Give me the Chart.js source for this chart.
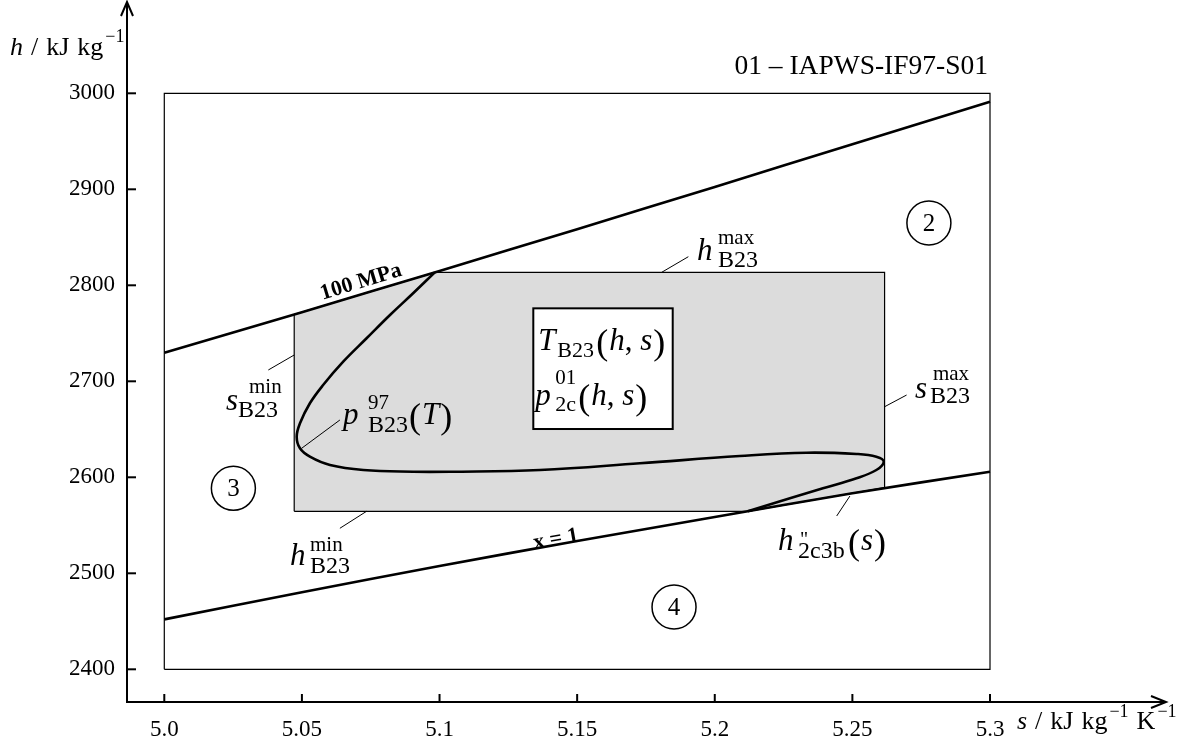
<!DOCTYPE html>
<html><head><meta charset="utf-8">
<script src="https://cdn.jsdelivr.net/npm/chart.js@4.4.1/dist/chart.umd.min.js"></script>
<style>html,body{margin:0;padding:0;background:#fff;}canvas{display:block;}</style>
</head><body>
<canvas id="c" width="1197" height="748"></canvas>
<script>
// ---- data ----
const xTickValues = [5.0, 5.05, 5.1, 5.15, 5.2, 5.25, 5.3];
const xTickLabels = ['5.0', '5.05', '5.1', '5.15', '5.2', '5.25', '5.3'];
const yTickValues = [2400, 2500, 2600, 2700, 2800, 2900, 3000];
const yTickLabels = ['2400', '2500', '2600', '2700', '2800', '2900', '3000'];
const frameS = [5.0, 5.3, 5.3, 5.0, 5.0];
const frameH = [2400, 2400, 3000, 3000, 2400];
const isobarS = [5.0, 5.05, 5.1, 5.15, 5.2, 5.25, 5.3];           // 100 MPa
const isobarH = [2729.8, 2772, 2815, 2858.5, 2902.5, 2947, 2991.3];
const satS = [5.0, 5.05, 5.1, 5.15, 5.2, 5.25, 5.3];               // x = 1
const satH = [2452, 2480.2, 2507.6, 2533.7, 2558.6, 2583.4, 2605.8];
const regionS = [5.0472, 5.0472, 5.0983, 5.2617, 5.2617, 5.2120, 5.0472];
const regionH = [2564.6, 2769.6, 2813.5, 2813.5, 2589.3, 2564.6, 2564.6];
const b23S = [5.0983,5.0904,5.0820,5.0735,5.0650,5.0577,5.0529,5.0493,5.0481,5.0493,5.0529,5.0602,5.0723,5.0904,5.1038,5.1365,5.1728,5.2091,5.2333,5.2515,5.2587,5.2614,5.2587,5.2515,5.2393,5.2273,5.2120];
const b23H = [2813.5,2791.7,2769.1,2744.8,2720.4,2696.1,2677.1,2656.3,2642.3,2630.2,2621.5,2612.8,2607.6,2605.8,2605.8,2607.6,2614.6,2622.2,2625.6,2624.3,2621.5,2616.3,2607.6,2599.0,2588.5,2578.1,2564.6];
const leaderS = [5.1807, 5.1904, null, 5.0472, 5.0378, null, 5.2617, 5.2697, null, 5.0735, 5.0638, null, 5.0499, 5.0638, null, 5.2491, 5.2443];
const leaderH = [2813.5, 2829.8, null, 2727.4, 2711.8, null, 2673.5, 2685.7, null, 2564.6, 2546.9, null, 2630.2, 2659.7, null, 2580.5, 2559.7];
const regionLabels = ['2', '3', '4'];
const regionLabelS = [5.2778, 5.0251, 5.1852];
const regionLabelH = [2864.9, 2588.5, 2464.9];

// ---- helpers ----
const SERIF = '"Liberation Serif", "Times New Roman", serif';
const F = (size, style) => (style ? style + ' ' : '') + size + 'px ' + SERIF;
const pts = (S, H) => S.map((s, i) => ({x: s, y: H[i] === null ? null : H[i]}));

function put(ctx, t, x, y, font, align) {
  ctx.font = font; ctx.textAlign = align || 'left'; ctx.textBaseline = 'alphabetic';
  ctx.fillText(t, x, y);
  return x + ctx.measureText(t).width;
}
function paren(ctx, x, y, inner) {
  let cx = put(ctx, '(', x, y + 4, F(36));
  cx += 1;
  for (const [t, f] of inner) cx = put(ctx, t, cx, y, f);
  cx += 1;
  return put(ctx, ')', cx, y + 4, F(36));
}

const annot = {
  id: 'annot',
  afterDatasetsDraw(chart) {
    const ctx = chart.ctx, xs = chart.scales.x, ys = chart.scales.y;
    const P = (s, h) => [xs.getPixelForValue(s), ys.getPixelForValue(h)];
    ctx.save();
    ctx.fillStyle = '#000';
    // formula box
    const [bx1, by1] = P(5.13407, 2776.0), [bx2, by2] = P(5.18472, 2650.3);
    ctx.fillStyle = '#fff'; ctx.fillRect(bx1, by1, bx2 - bx1, by2 - by1);
    ctx.strokeStyle = '#000'; ctx.lineWidth = 2; ctx.strokeRect(bx1, by1, bx2 - bx1, by2 - by1);
    ctx.fillStyle = '#000';
    const I = F(31, 'italic'), R = F(31), SUP = F(21), SUB = F(24);
    let a = P(5.13589, 2732.6);
    put(ctx, 'T', a[0], a[1], I);
    put(ctx, 'B23', a[0] + 19, a[1] + 7, F(22));
    paren(ctx, a[0] + 58, a[1], [['h', I], [', ', R], ['s', I]]);
    a = P(5.13480, 2675.3);
    put(ctx, 'p', a[0], a[1], I);
    put(ctx, '01', a[0] + 20, a[1] - 21, SUP);
    put(ctx, '2c', a[0] + 20, a[1] + 6, F(22));
    paren(ctx, a[0] + 43, a[1], [['h', I], [', ', R], ['s', I]]);

    // h max
    a = P(5.19355, 2826.3);
    put(ctx, 'h', a[0], a[1], I);
    put(ctx, 'max', a[0] + 21, a[1] - 16, SUP);
    put(ctx, 'B23', a[0] + 21, a[1] + 7, SUB);
    // s min
    a = P(5.02242, 2670.1);
    put(ctx, 's', a[0], a[1], I);
    put(ctx, 'min', a[0] + 23, a[1] - 17, SUP);
    put(ctx, 'B23', a[0] + 12, a[1] + 7, SUB);
    // s max
    a = P(5.27273, 2682.6);
    put(ctx, 's', a[0], a[1], I);
    put(ctx, 'max', a[0] + 18, a[1] - 18, SUP);
    put(ctx, 'B23', a[0] + 15, a[1] + 5, SUB);
    // h min
    a = P(5.04567, 2508.6);
    put(ctx, 'h', a[0], a[1], I);
    put(ctx, 'min', a[0] + 20, a[1] - 14, SUP);
    put(ctx, 'B23', a[0] + 20, a[1] + 8, SUB);
    // p97 B23 (T)
    a = P(5.06493, 2655.5);
    put(ctx, 'p', a[0], a[1], I);
    put(ctx, '97', a[0] + 25, a[1] - 15, SUP);
    put(ctx, 'B23', a[0] + 25, a[1] + 8, SUB);
    paren(ctx, a[0] + 66, a[1], [['T', I]]);
    // h'' 2c3b (s)
    a = P(5.22297, 2524.3);
    put(ctx, 'h', a[0], a[1], I);
    put(ctx, '"', a[0] + 22, a[1] - 4, F(20));
    put(ctx, '2c3b', a[0] + 20, a[1] + 8, SUB);
    paren(ctx, a[0] + 70, a[1], [['s', I]]);

    // region circle numbers
    regionLabels.forEach((t, i) => {
      const p = P(regionLabelS[i], regionLabelH[i]);
      ctx.font = F(25); ctx.textAlign = 'center'; ctx.textBaseline = 'middle';
      ctx.fillText(t, p[0], p[1] + 1);
    });

    // rotated line labels
    const ang1 = Math.atan2(ys.getPixelForValue(2991.3) - ys.getPixelForValue(2729.8), xs.getPixelForValue(5.3) - xs.getPixelForValue(5.0));
    a = P(5.07147, 2803.4);
    ctx.save(); ctx.translate(a[0], a[1]); ctx.rotate(ang1);
    ctx.font = F(22, 'bold'); ctx.textAlign = 'center'; ctx.textBaseline = 'middle';
    ctx.fillText('100 MPa', 0, 0); ctx.restore();
    const ang2 = Math.atan2(ys.getPixelForValue(2546.9) - ys.getPixelForValue(2519.1), xs.getPixelForValue(5.1764) - xs.getPixelForValue(5.1219));
    a = P(5.14233, 2535.2);
    ctx.save(); ctx.translate(a[0], a[1]); ctx.rotate(ang2);
    ctx.font = F(22, 'bold'); ctx.textAlign = 'center'; ctx.textBaseline = 'middle';
    ctx.fillText('x = 1', 0, 0); ctx.restore();
    ctx.restore();
  },
  afterDraw(chart) {
    const ctx = chart.ctx, xs = chart.scales.x, ys = chart.scales.y, ca = chart.chartArea;
    ctx.save();
    ctx.strokeStyle = '#000'; ctx.fillStyle = '#000'; ctx.lineWidth = 2;
    // inward tick marks
    xTickValues.forEach(v => { const px = xs.getPixelForValue(v); ctx.beginPath(); ctx.moveTo(px, ca.bottom); ctx.lineTo(px, ca.bottom - 8); ctx.stroke(); });
    yTickValues.forEach(v => { const py = ys.getPixelForValue(v); ctx.beginPath(); ctx.moveTo(ca.left, py); ctx.lineTo(ca.left + 9, py); ctx.stroke(); });
    // arrows
    ctx.beginPath(); ctx.moveTo(ca.left - 6, ca.top + 13); ctx.lineTo(ca.left, ca.top - 1); ctx.lineTo(ca.left + 6, ca.top + 13); ctx.stroke();
    ctx.beginPath(); ctx.moveTo(ca.right - 14, ca.bottom - 6); ctx.lineTo(ca.right + 1, ca.bottom); ctx.lineTo(ca.right - 14, ca.bottom + 6); ctx.stroke();
    // axis titles
    const T = F(26), TI = F(26, 'italic'), S = F(18);
    let x = put(ctx, 'h', 10, 55, TI);
    x = put(ctx, '/', x + 8, 55, T);
    x = put(ctx, 'kJ', x + 8, 55, T);
    x = put(ctx, 'kg', x + 8, 55, T);
    put(ctx, '\u22121', x + 2, 42, S);
    x = put(ctx, 's', 1017, 729, TI);
    x = put(ctx, '/', x + 8, 729, T);
    x = put(ctx, 'kJ', x + 8, 729, T);
    x = put(ctx, 'kg', x + 8, 729, T);
    x = put(ctx, '\u22121', x + 2, 717, S);
    x = put(ctx, 'K', x + 8, 729, T);
    put(ctx, '\u22121', x + 2, 717, S);
    // title
    put(ctx, '01 \u2013 IAPWS-IF97-S01', 988, 74, F(27.5), 'right');
    ctx.restore();
  }
};

Chart.defaults.font.family = SERIF;
Chart.defaults.color = '#000';

new Chart(document.getElementById('c'), {
  type: 'scatter',
  data: {
    datasets: [
      {data: pts(b23S, b23H), showLine: true, borderColor: '#000', borderWidth: 2.6, pointRadius: 0, tension: 0.4, order: 1},
      {data: pts(isobarS, isobarH), showLine: true, borderColor: '#000', borderWidth: 2.6, pointRadius: 0, tension: 0.3, order: 2},
      {data: pts(satS, satH), showLine: true, borderColor: '#000', borderWidth: 2.6, pointRadius: 0, tension: 0.3, order: 2},
      {data: pts(leaderS, leaderH), showLine: true, spanGaps: false, borderColor: '#000', borderWidth: 1, pointRadius: 0, order: 3},
      {data: pts(regionLabelS, regionLabelH), showLine: false, pointRadius: 22, pointBackgroundColor: '#fff', pointBorderColor: '#000', pointBorderWidth: 1.5, order: 0},
      {data: pts(frameS, frameH), showLine: true, borderColor: '#000', borderWidth: 1.2, pointRadius: 0, order: 9},
      {data: pts(regionS, regionH), showLine: true, borderColor: '#000', borderWidth: 1.2, backgroundColor: '#dcdcdc', fill: 'shape', pointRadius: 0, order: 10}
    ]
  },
  options: {
    responsive: false,
    animation: false,
    events: [],
    layout: {autoPadding: false, padding: {top: 3, right: 32, left: 0, bottom: 0}},
    plugins: {legend: {display: false}, tooltip: {enabled: false}},
    scales: {
      x: {
        type: 'linear', min: 4.98645, max: 5.36358,
        afterBuildTicks: s => { s.ticks = xTickValues.map(v => ({value: v})); },
        afterFit: s => { s.height = 46; s.paddingLeft = 0; s.paddingRight = 0; },
        ticks: {callback: (v, i) => xTickLabels[i], font: {family: SERIF, size: 23}, color: '#000', padding: 14, maxRotation: 0, autoSkip: false},
        grid: {display: true, drawOnChartArea: false, drawTicks: false},
        border: {display: true, color: '#000', width: 2}
      },
      y: {
        type: 'linear', min: 2365.94, max: 3094.06,
        afterBuildTicks: s => { s.ticks = yTickValues.map(v => ({value: v})); },
        afterFit: s => { s.width = 127; s.paddingTop = 0; s.paddingBottom = 0; },
        ticks: {callback: (v, i) => yTickLabels[i], font: {family: SERIF, size: 23}, color: '#000', padding: 12, autoSkip: false},
        grid: {display: true, drawOnChartArea: false, drawTicks: false},
        border: {display: true, color: '#000', width: 2}
      }
    }
  },
  plugins: [annot]
});
</script>
</body></html>
